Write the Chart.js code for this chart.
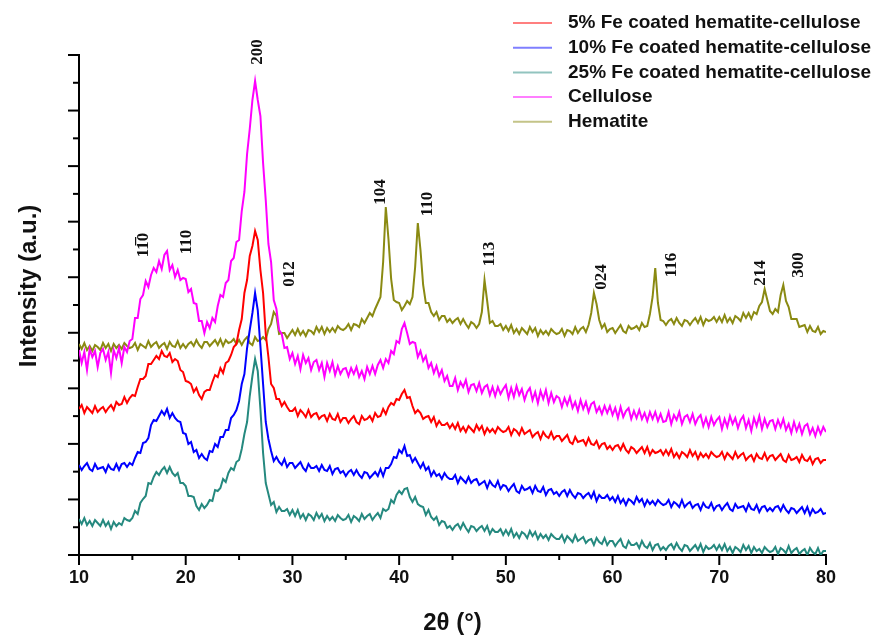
<!DOCTYPE html>
<html><head><meta charset="utf-8">
<script src="https://cdn.jsdelivr.net/npm/chart.js@4.4.1/dist/chart.umd.min.js"></script>
<style>html,body{margin:0;padding:0;background:#fff;}#wrap{width:883px;height:635px;position:relative;}</style>
</head><body><div id="wrap"><canvas id="c"></canvas></div>
<script>
const twoTheta = [
10,10.25,10.5,10.75,11,11.25,11.5,11.75,12,12.25,12.5,12.75,13,13.25,13.5,13.75,14,14.25,14.5,14.75,
15,15.25,15.5,15.75,16,16.25,16.5,16.75,17,17.25,17.5,17.75,18,18.25,18.5,18.75,19,19.25,19.5,19.75,
20,20.25,20.5,20.75,21,21.25,21.5,21.75,22,22.25,22.5,22.75,23,23.25,23.5,23.75,24,24.25,24.5,24.75,
25,25.25,25.5,25.75,26,26.25,26.5,26.75,27,27.25,27.5,27.75,28,28.25,28.5,28.75,29,29.25,29.5,29.75,
30,30.25,30.5,30.75,31,31.25,31.5,31.75,32,32.25,32.5,32.75,33,33.25,33.5,33.75,34,34.25,34.5,34.75,
35,35.25,35.5,35.75,36,36.25,36.5,36.75,37,37.25,37.5,37.75,38,38.25,38.5,38.75,39,39.25,39.5,39.75,
40,40.25,40.5,40.75,41,41.25,41.5,41.75,42,42.25,42.5,42.75,43,43.25,43.5,43.75,44,44.25,44.5,44.75,
45,45.25,45.5,45.75,46,46.25,46.5,46.75,47,47.25,47.5,47.75,48,48.25,48.5,48.75,49,49.25,49.5,49.75,
50,50.25,50.5,50.75,51,51.25,51.5,51.75,52,52.25,52.5,52.75,53,53.25,53.5,53.75,54,54.25,54.5,54.75,
55,55.25,55.5,55.75,56,56.25,56.5,56.75,57,57.25,57.5,57.75,58,58.25,58.5,58.75,59,59.25,59.5,59.75,
60,60.25,60.5,60.75,61,61.25,61.5,61.75,62,62.25,62.5,62.75,63,63.25,63.5,63.75,64,64.25,64.5,64.75,
65,65.25,65.5,65.75,66,66.25,66.5,66.75,67,67.25,67.5,67.75,68,68.25,68.5,68.75,69,69.25,69.5,69.75,
70,70.25,70.5,70.75,71,71.25,71.5,71.75,72,72.25,72.5,72.75,73,73.25,73.5,73.75,74,74.25,74.5,74.75,
75,75.25,75.5,75.75,76,76.25,76.5,76.75,77,77.25,77.5,77.75,78,78.25,78.5,78.75,79,79.25,79.5,79.75,
80];

const fe5 = [
146,150,142,148,145,142,149,143,146,148,143,147,150,145,153,150,151,158,152,157,
160,159,168,176,176,179,191,191,195,199,196,204,199,198,202,193,196,194,185,183,
174,173,171,163,167,160,156,163,165,165,173,180,178,187,182,192,194,200,208,211,
225,236,262,275,299,309,324,315,285,262,221,198,171,167,156,156,149,153,148,144,
144,147,139,145,142,138,145,138,141,142,136,139,140,134,141,136,135,141,133,137,
137,132,136,139,133,131,139,135,136,139,134,142,138,139,146,141,148,152,150,156,
155,161,165,157,158,149,142,145,142,136,138,139,133,138,129,134,130,130,132,127,
131,126,132,124,128,123,129,126,123,130,125,129,121,127,123,126,122,128,125,123,
124,128,120,126,124,120,127,121,123,125,118,121,123,116,123,119,117,123,116,119,
119,114,117,120,113,111,118,113,114,115,110,117,111,110,114,107,111,112,106,109,
105,109,110,105,111,105,102,108,106,102,105,108,102,108,100,105,102,103,105,100,
105,100,106,98,102,97,103,101,98,105,99,103,96,102,98,101,97,103,100,98,
99,103,96,102,99,96,103,97,100,102,95,98,100,94,101,97,96,102,95,99,
100,95,98,101,95,93,100,95,96,98,93,100,95,94,98,91,96,97,92,95,
95];

const fe10 = [
90,85,89,92,86,84,91,86,87,88,83,90,86,85,91,85,91,92,88,92,
90,97,103,102,112,113,117,130,135,134,139,144,140,146,137,142,137,134,133,122,
121,111,113,103,105,97,101,97,95,104,103,111,108,118,118,125,125,137,140,145,
154,171,181,207,225,242,262,245,209,171,133,116,104,94,98,93,90,96,88,92,
92,87,90,93,87,84,91,87,87,89,84,90,85,84,89,81,86,87,82,84,
79,83,85,80,85,80,77,83,82,77,80,83,79,86,79,87,87,91,98,97,
105,102,109,99,100,93,97,92,87,92,85,88,79,84,79,81,76,82,78,76,
76,80,72,78,75,72,78,72,75,76,70,72,74,67,74,70,68,74,66,70,
69,64,68,71,64,62,69,65,66,68,62,69,64,63,68,60,65,66,61,63,
59,63,65,59,65,60,57,62,61,57,60,62,57,63,54,60,57,57,60,55,
58,53,59,52,56,50,56,54,51,58,53,56,49,55,51,54,50,55,52,50,
51,55,48,53,51,48,55,48,51,53,47,50,51,45,52,48,47,52,45,49,
50,45,49,52,46,44,51,47,48,49,44,51,46,45,50,43,48,49,44,47,
44,48,49,44,50,45,42,47,46,42,45,48,42,48,40,46,42,43,46,41,
42];

const fe25 = [
36,31,37,30,34,29,35,32,29,35,29,33,26,33,29,32,30,37,35,34,
37,44,41,52,56,59,72,71,78,83,80,85,88,82,88,82,79,82,72,72,
69,59,59,58,49,45,51,47,50,55,54,65,64,67,76,73,82,87,85,93,
95,106,121,133,159,179,196,184,146,102,72,61,50,53,43,48,44,44,46,40,
45,39,45,37,41,35,41,39,35,42,37,41,34,39,35,38,34,40,37,35,
36,40,33,39,37,34,41,36,39,41,35,39,42,37,46,44,46,55,52,60,
64,61,66,67,58,53,58,51,49,48,40,45,38,35,38,30,34,33,27,29,
25,29,31,26,32,27,23,29,28,24,27,29,24,29,21,26,23,23,26,20,
25,20,26,18,22,17,23,21,17,24,19,23,16,21,17,20,15,21,18,16,
16,20,13,19,16,13,20,14,16,18,12,15,16,10,17,13,11,17,10,14,
14,9,13,16,9,7,14,10,10,12,7,14,9,7,12,5,10,11,5,8,
5,9,11,6,12,7,4,10,9,4,7,10,5,11,3,9,6,7,10,5,
10,5,11,4,8,2,8,6,3,10,5,9,2,8,4,6,2,8,5,3,
4,8,1,7,5,2,9,2,5,7,1,4,6,0,7,3,1,7,0,4,
4];

const cellulose = [
205,192,203,185,206,198,204,188,202,206,195,203,182,205,197,207,192,208,203,214,
216,237,237,256,260,274,268,280,287,283,294,286,300,304,285,290,278,285,275,277,
276,263,266,252,251,234,234,222,233,227,237,233,249,260,258,272,275,294,297,313,
315,344,363,401,426,455,474,455,439,392,355,311,293,255,246,225,221,207,208,196,
202,191,199,186,200,192,197,185,193,195,185,192,178,192,184,193,180,189,181,186,
187,179,187,181,188,178,184,176,188,181,189,181,190,195,187,196,192,204,201,214,
212,226,232,222,211,213,212,198,204,194,199,187,192,182,189,179,185,174,179,169,
169,177,165,173,168,175,163,170,171,164,172,162,168,170,160,168,159,168,161,166,
170,157,167,158,169,160,166,155,163,167,155,163,152,164,156,165,152,162,153,159,
157,148,157,150,158,147,153,144,155,146,153,143,151,153,143,148,141,149,142,149,
140,147,137,148,138,144,147,136,144,137,145,136,142,134,143,136,143,134,141,133,
134,143,131,140,135,143,131,138,140,133,141,131,137,140,129,137,128,138,130,135,
138,126,136,128,139,131,137,127,135,139,127,135,124,137,129,139,126,136,128,134,
135,126,135,128,136,125,131,122,133,124,131,121,129,131,121,127,119,128,121,128,
123];

const hematite = [
211,206,212,205,209,204,210,208,205,212,207,211,204,211,207,210,206,212,209,207,
208,212,205,211,209,207,214,208,211,213,207,210,212,206,213,209,208,214,207,211,
207,211,213,209,215,210,207,213,213,209,212,215,210,216,209,215,212,213,216,211,
215,210,215,218,212,210,218,214,215,218,215,226,231,243,239,221,222,222,217,221,
225,220,226,220,224,219,225,224,221,228,223,228,221,227,223,227,223,229,226,225,
227,231,225,231,230,228,236,232,237,242,239,246,252,258,293,348,316,276,255,253,
252,245,249,254,251,258,288,332,305,270,252,252,243,239,243,235,239,239,233,236,
232,235,237,231,236,231,227,233,231,227,231,243,275,254,232,234,229,229,231,225,
229,224,230,222,226,221,227,224,221,228,223,227,219,225,221,224,220,226,223,221,
222,226,219,225,224,221,228,222,226,228,223,230,242,262,251,235,227,231,223,226,
227,222,226,230,224,222,229,226,227,229,225,232,228,229,241,258,287,252,235,234,
230,234,236,231,237,232,229,235,234,230,234,237,232,238,230,236,234,235,238,233,
238,233,240,233,237,232,239,237,234,242,237,242,236,243,241,249,253,266,255,244,
241,246,243,260,270,254,248,236,236,236,228,229,230,223,229,224,223,228,221,224,
223];

const seriesNames = ['5% Fe coated hematite-cellulose','10% Fe coated hematite-cellulose','25% Fe coated hematite-cellulose','Cellulose','Hematite'];
const seriesColors = ['#ff0000','#0000ff','#25897f','#ff00ff','#8a8a12'];
const xTickLabels = [10,20,30,40,50,60,70,80];
const peakTexts   = ['1\u0031\u03050','110','200','012','104','110','113','024','116','214','300'];
const peakAngles  = [16.1, 20.1, 26.7, 29.7, 38.3, 42.7, 48.5, 59.0, 65.5, 73.9, 77.4];
const peakHeights = [310, 313, 503, 281, 363, 351, 301, 278, 290, 282, 290];

const yMax = 500;
const allSeries = [fe5, fe10, fe25, cellulose, hematite];

const datasets = allSeries.map((s, k) => ({
  label: seriesNames[k],
  data: twoTheta.map((x, i) => ({x: x, y: s[i]})),
  borderColor: seriesColors[k],
  backgroundColor: seriesColors[k],
  borderWidth: 2,
  pointRadius: 0,
  tension: 0,
  fill: false
}));

const decorations = {
  id: 'decorations',
  afterDraw(chart) {
    const {ctx, chartArea: a, scales: {x, y}} = chart;
    ctx.save();
    ctx.strokeStyle = '#000';
    ctx.lineWidth = 2;
    x.ticks.forEach(t => {
      const px = x.getPixelForValue(t.value);
      const major = xTickLabels.includes(t.value);
      ctx.beginPath(); ctx.moveTo(px, a.bottom); ctx.lineTo(px, a.bottom + (major ? 10 : 5)); ctx.stroke();
    });
    y.ticks.forEach((t, i) => {
      const py = y.getPixelForValue(t.value);
      const major = i % 2 === 0;
      ctx.beginPath(); ctx.moveTo(a.left, py); ctx.lineTo(a.left - (major ? 11 : 6), py); ctx.stroke();
    });
    // y title
    ctx.save();
    ctx.translate(29, 286);
    ctx.rotate(-Math.PI / 2);
    ctx.fillStyle = '#111';
    ctx.font = 'bold 24px "Liberation Sans", Arial, sans-serif';
    ctx.textAlign = 'center'; ctx.textBaseline = 'middle';
    ctx.fillText('Intensity (a.u.)', 0, 0);
    ctx.restore();
    // peak labels
    ctx.fillStyle = '#111';
    ctx.font = 'bold 17px "Liberation Serif", "Times New Roman", serif';
    peakTexts.forEach((txt, i) => {
      const px = x.getPixelForValue(peakAngles[i]);
      const py = y.getPixelForValue(peakHeights[i]);
      ctx.save();
      ctx.translate(px, py);
      ctx.rotate(-Math.PI / 2);
      ctx.textAlign = 'center'; ctx.textBaseline = 'middle';
      ctx.fillText(txt, 0, 0);
      ctx.restore();
    });
    // legend
    ctx.font = 'bold 19px "Liberation Sans", Arial, sans-serif';
    ctx.textAlign = 'left'; ctx.textBaseline = 'middle';
    chart.data.datasets.forEach((ds, i) => {
      const ly = 23 + i * 24.7;
      ctx.globalAlpha = 0.5;
      ctx.strokeStyle = ds.borderColor;
      ctx.lineWidth = 2;
      ctx.beginPath(); ctx.moveTo(513, ly); ctx.lineTo(552, ly); ctx.stroke();
      ctx.globalAlpha = 1;
      ctx.fillStyle = '#111';
      ctx.fillText(ds.label, 568, ly);
    });
    ctx.restore();
  }
};

new Chart(document.getElementById('c'), {
  type: 'line',
  data: {datasets},
  options: {
    responsive: true,
    maintainAspectRatio: false,
    animation: false,
    layout: {padding: {top: 55, right: 57, left: 0, bottom: 0}},
    plugins: {legend: {display: false}, tooltip: {enabled: false}},
    scales: {
      x: {
        type: 'linear', min: 10, max: 80,
        ticks: {
          stepSize: 5,
          padding: 12,
          color: '#111',
          font: {family: '"Liberation Sans", Arial, sans-serif', size: 18, weight: 'bold'},
          callback: v => xTickLabels.includes(v) ? String(v) : ''
        },
        grid: {display: true, drawOnChartArea: false, drawTicks: false},
        border: {display: true, color: '#000', width: 2},
        title: {display: true, text: '2θ (°)', color: '#111', padding: {top: 0, bottom: -3},
                font: {family: '"Liberation Sans", Arial, sans-serif', size: 24, weight: 'bold'}},
        afterFit: s => { s.height = 80; }
      },
      y: {
        type: 'linear', min: 0, max: yMax,
        ticks: {display: false},
        afterBuildTicks: s => { s.ticks = Array.from({length: 19}, (_, i) => ({value: i * yMax / 18})); },
        grid: {display: true, drawOnChartArea: false, drawTicks: false},
        border: {display: true, color: '#000', width: 2},
        afterFit: s => { s.width = 79; }
      }
    }
  },
  plugins: [decorations]
});
</script></body></html>
